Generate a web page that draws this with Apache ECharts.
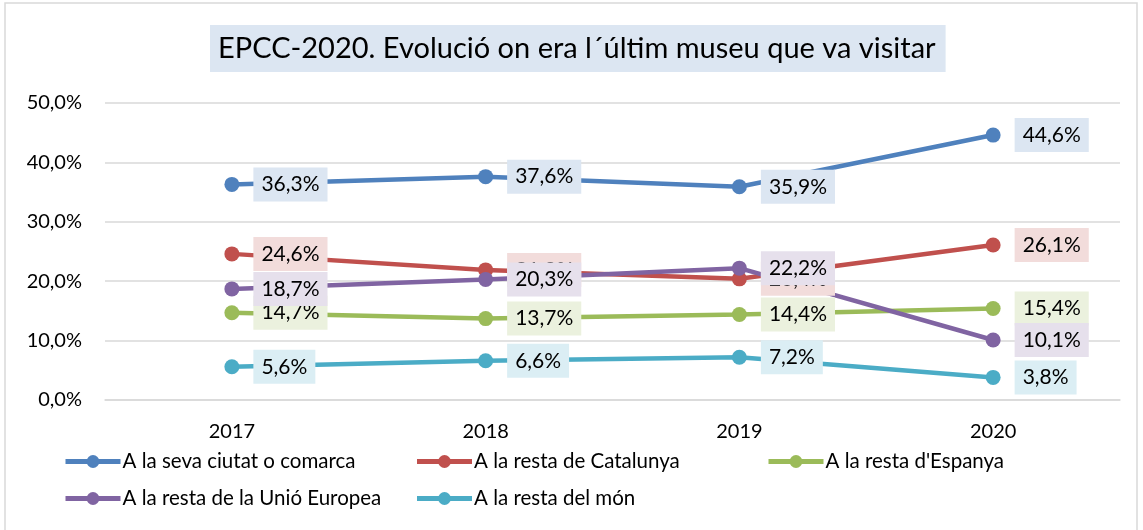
<!DOCTYPE html>
<html>
<head>
<meta charset="utf-8">
<script src="https://cdn.jsdelivr.net/npm/echarts@6/dist/echarts.min.js"></script>
<style>
  html, body { margin: 0; padding: 0; background: #fff; }
  #chart { width: 1143px; height: 530px; }
</style>
</head>
<body>
<div id="chart"></div>
<script>
// dades llegides del gràfic
const years = ['2017', '2018', '2019', '2020']
const ciutat = [36.3, 37.6, 35.9, 44.6]
const catalunya = [24.6, 21.9, 20.4, 26.1]
const espanya = [14.7, 13.7, 14.4, 15.4]
const europa = [18.7, 20.3, 22.2, 10.1]
const mon = [5.6, 6.6, 7.2, 3.8]

const seriesDefs = [
  { name: 'A la seva ciutat o comarca', data: ciutat, color: '#4f81bd', bg: '#dce6f2' },
  { name: 'A la resta de Catalunya', data: catalunya, color: '#c0504d', bg: '#f2dcdb' },
  { name: "A la resta d'Espanya", data: espanya, color: '#9bbb59', bg: '#ebf1de' },
  { name: 'A la resta de la Unió Europea', data: europa, color: '#8064a2', bg: '#e6e0ec' },
  { name: 'A la resta del món', data: mon, color: '#4bacc6', bg: '#dbeef4' }
]

const FONT = 'Lato'
const pct = (v) => v.toFixed(1).replace('.', ',') + '%'

const chart = echarts.init(document.getElementById('chart'))

chart.setOption({
  animation: false,
  textStyle: { fontFamily: FONT },
  title: {
    text: 'EPCC-2020. Evolució on era l´últim museu que va visitar',
    left: 210,
    top: 25,
    backgroundColor: '#dce6f2',
    padding: [7, 10, 7, 8],
    textStyle: { fontFamily: FONT, fontSize: 29, fontWeight: 'normal', color: '#000', lineHeight: 33 }
  },
  graphic: [{
    type: 'rect',
    shape: { x: 5, y: 3, width: 1132, height: 540 },
    style: { fill: 'none', stroke: '#d9d9d9', lineWidth: 1.5 },
    silent: true
  }],
  grid: { left: 105, right: 23, top: 103, bottom: 130 },
  legend: {
    left: 58,
    top: 438,
    width: 1080,
    itemWidth: 55,
    itemHeight: 16,
    itemGap: 0,
    lineStyle: { width: 5 },
    textStyle: { fontFamily: FONT, fontSize: 20.5, color: '#000', width: 292, lineHeight: 37, padding: [0, 0, 0, -3] },
    data: seriesDefs.map((s) => s.name)
  },
  xAxis: {
    type: 'category',
    data: years,
    boundaryGap: true,
    axisLine: { show: true, lineStyle: { color: '#d9d9d9', width: 1.5 } },
    axisTick: { show: false },
    axisLabel: { color: '#000', fontSize: 20, fontFamily: FONT, margin: 22 }
  },
  yAxis: {
    type: 'value',
    min: 0,
    max: 50,
    interval: 10,
    axisLine: { show: false },
    axisTick: { show: false },
    splitLine: { lineStyle: { color: '#d9d9d9', width: 1.5 } },
    axisLabel: { color: '#000', fontSize: 20, fontFamily: FONT, margin: 23, formatter: (v) => pct(v) }
  },
  series: seriesDefs.map((s) => ({
    name: s.name,
    type: 'line',
    data: s.data,
    symbol: 'circle',
    symbolSize: 15,
    color: s.color,
    lineStyle: { width: 4.5, color: s.color },
    itemStyle: { color: s.color },
    label: {
      show: true,
      position: 'right',
      distance: 14,
      formatter: (p) => pct(p.value),
      backgroundColor: s.bg,
      padding: [7, 8, 6, 8],
      color: '#000',
      fontSize: 21,
      fontFamily: FONT
    }
  }))
})
</script>
</body>
</html>
